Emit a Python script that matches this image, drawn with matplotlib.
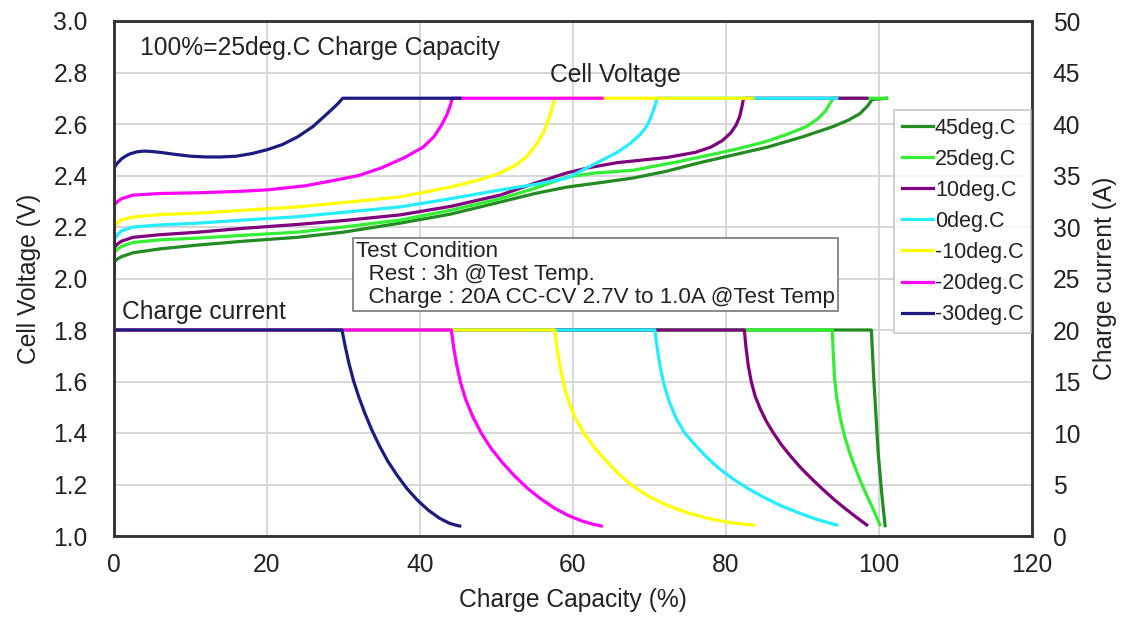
import matplotlib
matplotlib.use('Agg')
import matplotlib.pyplot as plt

plt.rcParams['font.family'] = ['Liberation Sans', 'DejaVu Sans']

# temperatures, plotted warm -> cold so the cold curves sit on top
labels = ['45deg.C', '25deg.C', '10deg.C', '0deg.C', '-10deg.C', '-20deg.C', '-30deg.C']
colors = ['#228b22', '#33ee33', '#800080', '#22eeff', '#ffff00', '#ff00ff', '#1c1c80']

# cell voltage curves: charge capacity (%) and voltage (V)
v_x_45 = [0, 0, 0.5, 1, 2.5, 6, 11, 17, 24, 30, 37.4, 44, 50.5, 55, 59.2, 63, 67.8, 72, 76.6, 81, 85.4, 90, 94, 96, 97.5, 98.5, 99.1, 101]
v_y_45 = [2.02, 2.064, 2.077, 2.085, 2.10, 2.115, 2.13, 2.145, 2.16, 2.18, 2.215, 2.25, 2.297, 2.33, 2.355, 2.37, 2.39, 2.415, 2.45, 2.48, 2.51, 2.55, 2.59, 2.615, 2.64, 2.67, 2.695, 2.70]
v_x_25 = [0, 0, 0.5, 1, 2.5, 6, 11, 17, 24, 30, 37.4, 44, 50.5, 55, 59.2, 63, 67.8, 74, 81, 85, 88, 90.5, 92, 93, 93.6, 94, 101]
v_y_25 = [2.02, 2.10, 2.115, 2.125, 2.14, 2.15, 2.157, 2.168, 2.18, 2.20, 2.227, 2.265, 2.31, 2.35, 2.394, 2.41, 2.42, 2.455, 2.50, 2.53, 2.56, 2.59, 2.62, 2.65, 2.68, 2.70, 2.70]
v_x_10 = [0, 0, 0.5, 1, 2.5, 6, 11, 17, 24, 30, 37.4, 44, 50.5, 55, 59.2, 62, 65.8, 72.3, 76, 78, 79.5, 80.6, 81.3, 81.8, 82.1, 82.3, 98.4]
v_y_10 = [2.02, 2.12, 2.135, 2.145, 2.16, 2.17, 2.18, 2.195, 2.21, 2.225, 2.247, 2.28, 2.324, 2.37, 2.41, 2.43, 2.45, 2.47, 2.49, 2.51, 2.535, 2.565, 2.595, 2.63, 2.67, 2.70, 2.70]
v_x_0 = [0, 0, 0.5, 1, 2.5, 6, 11, 17, 24, 30, 37.4, 44, 50.5, 55, 59.2, 62.5, 65.8, 67.5, 68.8, 69.6, 70.1, 70.6, 71, 94.5]
v_y_0 = [2.02, 2.15, 2.172, 2.185, 2.20, 2.208, 2.215, 2.227, 2.24, 2.257, 2.278, 2.31, 2.344, 2.365, 2.39, 2.44, 2.49, 2.525, 2.56, 2.59, 2.62, 2.66, 2.70, 2.70]
v_x_m10 = [0, 0, 0.5, 1, 2.5, 6, 11, 17, 24, 30, 37.4, 44, 48, 50.5, 52.5, 54, 55.2, 56.2, 57, 57.6, 83.5]
v_y_m10 = [2.02, 2.20, 2.218, 2.228, 2.239, 2.248, 2.254, 2.265, 2.278, 2.295, 2.317, 2.355, 2.385, 2.41, 2.44, 2.475, 2.52, 2.57, 2.635, 2.70, 2.70]
v_x_m20 = [0, 0, 0.5, 1, 2.5, 6, 11, 16, 20, 25, 28.6, 32, 35, 38, 40.4, 41.8, 42.8, 43.5, 44, 44.2, 63.8]
v_y_m20 = [2.02, 2.285, 2.30, 2.31, 2.324, 2.33, 2.333, 2.338, 2.344, 2.36, 2.38, 2.40, 2.43, 2.47, 2.51, 2.55, 2.595, 2.635, 2.675, 2.70, 2.70]
v_x_m30 = [0, 0, 0.5, 1, 1.5, 2, 3, 4, 5, 6, 8, 10, 12, 14, 16, 18, 20, 22, 24, 26, 27.5, 28.6, 29.3, 29.9, 45.2]
v_y_m30 = [2.02, 2.43, 2.45, 2.465, 2.475, 2.483, 2.492, 2.495, 2.493, 2.49, 2.482, 2.475, 2.472, 2.472, 2.475, 2.485, 2.50, 2.52, 2.55, 2.59, 2.63, 2.66, 2.68, 2.70, 2.70]

# charge current curves: charge capacity (%) and current (A)
c_x_45 = [0, 0, 99.0, 99.3, 99.9, 100.4, 100.8]
c_y_45 = [0, 20, 20, 15.5, 8.0, 3.8, 1.0]
c_x_25 = [0, 0, 93.9, 94.0, 94.2, 94.5, 94.9, 95.5, 96.2, 96.9, 97.6, 98.3, 99.0, 99.6, 100.1]
c_y_25 = [0, 20, 20, 18.0, 15.2, 13.3, 11.6, 9.7, 8.0, 6.6, 5.3, 4.1, 3.0, 2.0, 1.1]
c_x_10 = [0, 0, 82.4, 82.6, 82.9, 83.3, 83.8, 84.5, 85.3, 86.2, 87.3, 88.5, 89.8, 91.2, 92.7, 94.2, 95.6, 96.9, 97.8, 98.4]
c_y_10 = [0, 20, 20, 18.4, 16.6, 15.0, 13.6, 12.3, 11.1, 10.0, 8.8, 7.7, 6.6, 5.55, 4.5, 3.5, 2.65, 1.9, 1.4, 1.07]
c_x_0 = [0, 0, 70.7, 71.0, 71.4, 71.9, 72.6, 73.5, 74.6, 75.9, 77.4, 79.1, 81.0, 83.0, 85.1, 87.3, 89.5, 91.7, 93.3, 94.5]
c_y_0 = [0, 20, 20, 18.3, 16.4, 14.7, 13.0, 11.4, 10.0, 8.9, 7.7, 6.55, 5.5, 4.55, 3.7, 2.9, 2.25, 1.65, 1.3, 1.07]
c_x_m10 = [0, 0, 57.6, 57.9, 58.3, 58.8, 59.5, 60.4, 61.5, 62.8, 64.3, 66.0, 67.9, 70.0, 72.4, 75.0, 77.7, 80.5, 83.6]
c_y_m10 = [0, 20, 20, 18.3, 16.5, 14.7, 12.9, 11.3, 9.9, 8.6, 7.3, 6.0, 4.8, 3.8, 2.95, 2.25, 1.7, 1.3, 1.05]
c_x_m20 = [0, 0, 44.1, 44.4, 44.8, 45.3, 46.0, 46.9, 48.0, 49.3, 50.8, 52.4, 54.1, 55.9, 57.7, 59.5, 61.2, 62.6, 63.7]
c_y_m20 = [0, 20, 20, 18.3, 16.6, 14.9, 13.2, 11.6, 10.0, 8.5, 7.1, 5.8, 4.6, 3.55, 2.65, 1.95, 1.45, 1.15, 0.97]
c_x_m30 = [0, 0, 29.8, 30.2, 30.7, 31.3, 32.0, 32.8, 33.7, 34.7, 35.8, 37.0, 38.3, 39.7, 41.1, 42.5, 43.8, 44.6, 45.2]
c_y_m30 = [0, 20, 20, 18.5, 16.8, 15.1, 13.5, 11.9, 10.3, 8.75, 7.25, 5.9, 4.6, 3.45, 2.5, 1.75, 1.25, 1.07, 0.97]

volt_x = [v_x_45, v_x_25, v_x_10, v_x_0, v_x_m10, v_x_m20, v_x_m30]
volt_y = [v_y_45, v_y_25, v_y_10, v_y_0, v_y_m10, v_y_m20, v_y_m30]
cur_x = [c_x_45, c_x_25, c_x_10, c_x_0, c_x_m10, c_x_m20, c_x_m30]
cur_y = [c_y_45, c_y_25, c_y_10, c_y_0, c_y_m10, c_y_m20, c_y_m30]

x_ticks = [0, 20, 40, 60, 80, 100, 120]
v_ticks = [1.0, 1.2, 1.4, 1.6, 1.8, 2.0, 2.2, 2.4, 2.6, 2.8, 3.0]
a_ticks = [0, 5, 10, 15, 20, 25, 30, 35, 40, 45, 50]

fig = plt.figure(figsize=(11.24, 6.22), dpi=100)
ax1 = fig.add_axes([114 / 1124, 1 - 536 / 622, 918 / 1124, 515 / 622])
ax2 = ax1.twinx()

handles = []
for i in range(len(labels)):
    h, = ax1.plot(volt_x[i], volt_y[i], color=colors[i], lw=2.3, label=labels[i],
                  solid_joinstyle='round')
    handles.append(h)
    ax2.plot(cur_x[i], cur_y[i], color=colors[i], lw=2.3, solid_joinstyle='round')

ax1.set_xlim(0, 120)
ax1.set_ylim(1.0, 3.0)
ax2.set_ylim(0, 50)
ax1.set_xticks(x_ticks)
ax1.set_yticks(v_ticks)
ax1.set_yticklabels(['%.1f' % v for v in v_ticks])
ax2.set_yticks(a_ticks)

ax1.grid(True, color='#d4d4d4', lw=1.3)
ax1.set_axisbelow(True)

tc = '#222222'
fs = 17.7
for ax in (ax1, ax2):
    for s in ax.spines.values():
        s.set_color('#333333')
        s.set_linewidth(1.8)
ax1.tick_params(axis='y', length=0, pad=19, labelsize=fs, colors=tc)
ax1.tick_params(axis='x', length=0, pad=12, labelsize=fs, colors=tc)
ax2.tick_params(axis='y', length=0, pad=15, labelsize=fs, colors=tc)

ax1.set_xlabel('Charge Capacity (%)', fontsize=fs, color=tc, labelpad=8)
ax1.set_ylabel('Cell Voltage (V)', fontsize=fs, color=tc, labelpad=9)
ax2.set_ylabel('Charge current (A)', fontsize=fs, color=tc, labelpad=9)

ax1.text(0.028, 0.948, '100%=25deg.C Charge Capacity', transform=ax1.transAxes,
         fontsize=fs, color=tc, va='center', ha='left')
ax1.text(65.5, 2.79, 'Cell Voltage', fontsize=fs, color=tc, ha='center', va='center')
ax1.text(1.0, 1.87, 'Charge current', fontsize=fs, color=tc, ha='left', va='center')

ax2.text((356 - 114) / 918, (536 - 241) / 515,
         'Test Condition\n  Rest : 3h @Test Temp.\n  Charge : 20A CC-CV 2.7V to 1.0A @Test Temp',
         transform=ax2.transAxes, fontsize=16.1, color=tc, ha='left', va='top', linespacing=1.12,
         bbox=dict(boxstyle='square,pad=0.15', facecolor='white', edgecolor='#777777', lw=1.2))

leg = ax2.legend(handles=handles, loc='upper left', bbox_to_anchor=((894 - 114) / 918, (536 - 110) / 515),
                 borderaxespad=0, fontsize=15.5, frameon=True, fancybox=False, handlelength=1.45,
                 handletextpad=0.1, labelspacing=0.47, borderpad=0.35)
leg.get_frame().set_edgecolor('#bbbbbb')
leg.get_frame().set_linewidth(1.2)
for t in leg.get_texts():
    t.set_color(tc)

fig.savefig('out.png', dpi=100)
